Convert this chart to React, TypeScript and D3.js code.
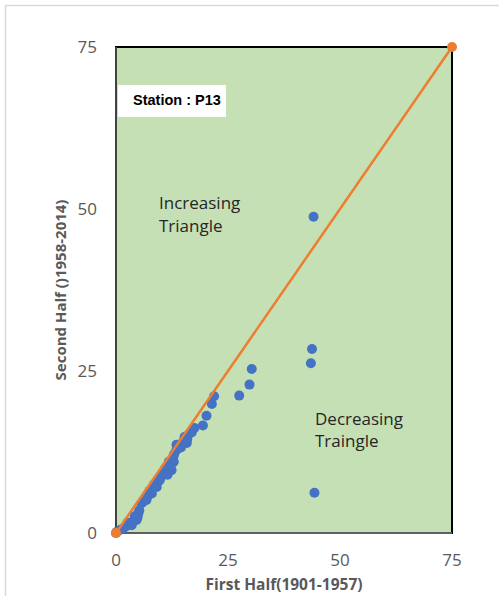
import React from "react";
import * as d3 from "d3";

const firstHalf = [0, 0.2, 1.0, 1.6, 2.2, 2.6, 3.1, 3.8, 4.2, 4.6, 5.0, 5.2, 5.7, 6.0, 6.8, 7.0, 7.5, 8.0, 8.5, 9.1, 9.5, 9.8, 10.2, 10.6, 11.0, 11.8, 12.0, 12.4, 12.8, 12.9, 13.0, 13.5, 13.5, 14.5, 15.0, 15.3, 15.8, 15.9, 16.2, 16.9, 17.5, 19.4, 20.2, 21.4, 21.9, 27.5, 29.8, 30.3, 43.5, 43.75, 44.1, 44.3, 3.5, 4.8, 11.5, 12.2];
const secondHalf = [0, 0.2, 0.5, 0.7, 1.0, 1.6, 1.5, 1.8, 2.6, 2.0, 3.0, 3.5, 4.6, 4.8, 5.1, 5.6, 6.5, 6.1, 7.5, 7.1, 8.0, 8.2, 8.8, 9.2, 10.0, 11.0, 10.5, 9.7, 11.8, 11.0, 12.2, 12.8, 13.6, 13.2, 14.1, 14.8, 13.9, 14.5, 15.2, 15.5, 16.2, 16.6, 18.1, 19.9, 21.1, 21.2, 22.9, 25.3, 26.2, 28.4, 48.8, 6.2, 1.2, 2.4, 9.0, 10.2];
const refLine = [0, 75];
const ticks = [0, 25, 50, 75];

const W = 499, H = 596;
const left = 116, right = 452, top = 47, bottom = 533;

export default function App() {
  const x = d3.scaleLinear().domain([0, 75]).range([left, right]);
  const y = d3.scaleLinear().domain([0, 75]).range([bottom, top]);
  const line = d3.line<number>().x((d) => x(d)).y((d) => y(d));
  const font = "'Open Sans', sans-serif";
  return (
    <div style={{ position: "absolute", left: 0, top: 0 }}>
      <svg width={W} height={H} style={{ display: "block" }}>
        <rect x={0} y={0} width={W} height={H} fill="#fff" />
        <rect x={5.5} y={5.5} width={W + 10} height={H + 10} fill="none" stroke="#d9d9d9" strokeWidth={1.5} />
        <rect x={left} y={top} width={right - left} height={bottom - top} fill="#C5E0B4" stroke="#000" strokeWidth={2} />
        <line x1={left} x2={left} y1={top} y2={bottom} stroke="#595959" strokeWidth={1.5} />
        <line x1={left} x2={right} y1={bottom} y2={bottom} stroke="#7f7f7f" strokeWidth={1.5} />
        <rect x={118} y={85} width={108} height={32} fill="#fff" />
        <text x={133} y={105} fontFamily="'Liberation Sans', Arial, sans-serif" fontWeight="bold" fontSize={14.5} fill="#000">Station : P13</text>
        <text fontFamily={font} fontSize={17} fill="#262626">
          <tspan x={159} y={209}>Increasing</tspan>
          <tspan x={159} y={232}>Triangle</tspan>
        </text>
        <text fontFamily={font} fontSize={17} fill="#262626">
          <tspan x={315} y={425}>Decreasing</tspan>
          <tspan x={315} y={447}>Traingle</tspan>
        </text>
        {firstHalf.map((v, i) => (
          <circle key={i} cx={x(v)} cy={y(secondHalf[i])} r={5} fill="#4472C4" />
        ))}
        <path d={line(refLine) || ""} stroke="#ED7D31" strokeWidth={2.5} fill="none" />
        {refLine.map((v, i) => (
          <circle key={"o" + i} cx={x(v)} cy={y(v)} r={5} fill="#ED7D31" />
        ))}
        {ticks.map((t) => (
          <text key={"x" + t} x={x(t)} y={566} textAnchor="middle" fontFamily={font} fontSize={17} fill="#595959">{t}</text>
        ))}
        {ticks.map((t) => (
          <text key={"y" + t} x={97} y={y(t) + 6} textAnchor="end" fontFamily={font} fontSize={17} fill="#595959">{t}</text>
        ))}
        <text x={(left + right) / 2} y={590} textAnchor="middle" fontFamily={font} fontWeight="bold" fontSize={15.5} fill="#595959">First Half(1901-1957)</text>
        <text transform={`translate(66,${(top + bottom) / 2}) rotate(-90)`} textAnchor="middle" fontFamily={font} fontWeight="bold" fontSize={15} fill="#595959">Second Half ()1958-2014)</text>
      </svg>
    </div>
  );
}
